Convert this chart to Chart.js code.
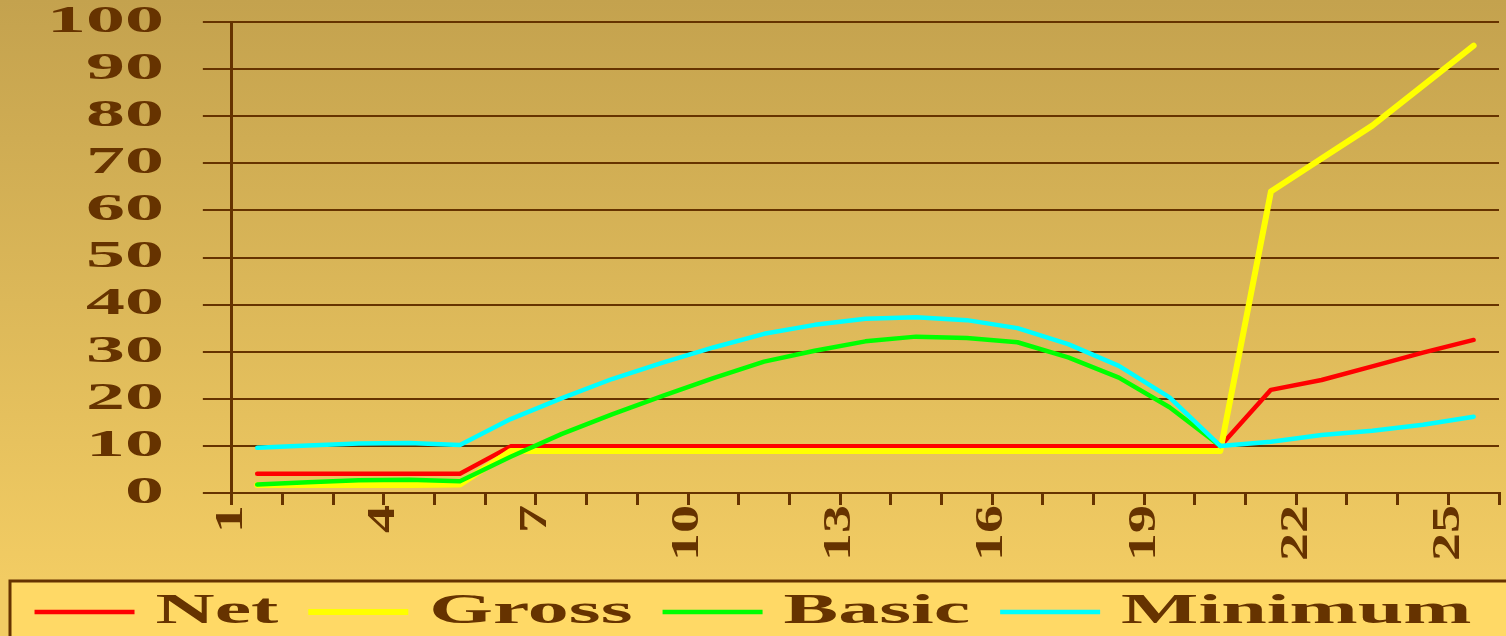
<!DOCTYPE html>
<html>
<head>
<meta charset="utf-8">
<title>Net, Gross, Basic and Minimum</title>
<script src="https://cdn.jsdelivr.net/npm/chart.js@4.4.0/dist/chart.umd.min.js"></script>
<style>
  html, body { margin: 0; padding: 0; overflow: hidden; }
  body { background: #F2CC63; }
  #wrap { position: relative; width: 1506px; height: 643px; }
</style>
</head>
<body>
<div id="wrap"><canvas id="payChart"></canvas></div>
<script>
// --- DATA ---
const categories = [1, 2, 3, 4, 5, 6, 7, 8, 9, 10, 11, 12, 13, 14, 15, 16, 17, 18, 19, 20, 21, 22, 23, 24, 25];
const labelledCategories = [1, 4, 7, 10, 13, 16, 19, 22, 25];
const yTicks = [0, 10, 20, 30, 40, 50, 60, 70, 80, 90, 100];

const netValues = [4.1, 4.1, 4.1, 4.1, 4.1, 9.9, 9.9, 9.9, 9.9, 9.9, 9.9, 9.9, 9.9, 9.9, 9.9, 9.9, 9.9, 9.9, 9.9, 9.9, 21.9, 24.0, 26.9, 29.8, 32.5];
const grossValues = [1.7, 1.7, 1.7, 1.7, 1.8, 8.9, 8.9, 8.9, 8.9, 8.9, 8.9, 8.9, 8.9, 8.9, 8.9, 8.9, 8.9, 8.9, 8.9, 8.9, 64, 71, 78, 86.5, 95];
const basicValues = [1.8, 2.3, 2.7, 2.8, 2.5, 7.7, 12.5, 16.7, 20.6, 24.4, 27.9, 30.2, 32.2, 33.2, 32.9, 32.0, 28.8, 24.5, 18.2, 10.0, null, null, null, null, null];
const minimumValues = [9.6, 10.1, 10.5, 10.6, 10.2, 15.7, 20.1, 24.2, 27.7, 30.9, 33.8, 35.7, 37.0, 37.3, 36.7, 35.0, 31.6, 27.0, 20.3, 10.0, 10.9, 12.3, 13.2, 14.5, 16.2];

// --- LOOK ---
const BROWN = '#663300';
const SERIF = "'Liberation Serif', 'Times New Roman', serif";
// the serif faces are drawn wide; horizontal stretch keyed by font size
const TEXT_STRETCH = { 38: 2.05, 40: 1.4, 42: 1.95 };
const LEGEND_INSET = 20;

function widenText(ctx) {
    const fill = ctx.fillText;
    const measure = ctx.measureText;
    const factor = () => {
        const m = /(\d+)px/.exec(ctx.font);
        return (m && TEXT_STRETCH[m[1]]) || 1;
    };
    ctx.fillText = function (text, x, y) {
        const k = factor();
        if (k === 1) return fill.call(this, text, x, y);
        this.save();
        this.translate(x, y);
        this.scale(k, 1);
        fill.call(this, text, 0, 0);
        this.restore();
    };
    ctx.measureText = function (text) {
        const m = measure.call(this, text);
        const k = factor();
        if (k === 1) return m;
        return {
            width: m.width * k,
            actualBoundingBoxAscent: m.actualBoundingBoxAscent,
            actualBoundingBoxDescent: m.actualBoundingBoxDescent,
            actualBoundingBoxLeft: m.actualBoundingBoxLeft * k,
            actualBoundingBoxRight: m.actualBoundingBoxRight * k
        };
    };
}

// background wash plus the open-ended legend panel
const backdrop = {
    id: 'backdrop',
    beforeDraw(chart) {
        const { ctx, width, height, legend } = chart;
        const wash = ctx.createLinearGradient(0, 0, 0, 580);
        wash.addColorStop(0, '#C4A24E');
        wash.addColorStop(1, '#F2CC63');
        ctx.save();
        ctx.fillStyle = wash;
        ctx.fillRect(0, 0, width, height);

        const top = legend.top + LEGEND_INSET;
        ctx.fillStyle = '#FFD966';
        ctx.fillRect(10, top, width, height - top);
        ctx.strokeStyle = BROWN;
        ctx.lineWidth = 3;
        ctx.beginPath();
        ctx.moveTo(10, height + 5);
        ctx.lineTo(10, top);
        ctx.lineTo(width + 5, top);
        ctx.stroke();
        ctx.restore();
    }
};

const toPoints = (values) => values.map((v, i) => ({ x: i + 0.5, y: v }));

const series = [
    { label: 'Net', values: netValues, color: '#FF0000', width: 4.5, order: 4 },
    { label: 'Gross', values: grossValues, color: '#FFFF00', width: 6, order: 3 },
    { label: 'Basic', values: basicValues, color: '#00FF00', width: 4.5, order: 2 },
    { label: 'Minimum', values: minimumValues, color: '#00FFFF', width: 4.5, order: 1 }
];

const canvas = document.getElementById('payChart');
const ctx = canvas.getContext('2d');
widenText(ctx);

new Chart(ctx, {
    type: 'line',
    data: {
        datasets: series.map(s => ({
            label: s.label,
            data: toPoints(s.values),
            borderColor: s.color,
            backgroundColor: s.color,
            borderWidth: s.width,
            borderCapStyle: 'round',
            borderJoinStyle: 'round',
            pointRadius: 0,
            tension: 0,
            order: s.order
        }))
    },
    options: {
        responsive: true,
        maintainAspectRatio: false,
        animation: false,
        events: [],
        layout: { padding: 0 },
        scales: {
            x: {
                type: 'linear',
                min: 0,
                max: categories.length,
                afterFit: (axis) => { axis.paddingRight = 7; },
                border: { display: true, color: BROWN, width: 2 },
                grid: { drawOnChartArea: false, color: BROWN, lineWidth: 3, tickLength: 12 },
                ticks: {
                    stepSize: 1,
                    autoSkip: false,
                    minRotation: 90,
                    maxRotation: 90,
                    padding: 0,
                    color: BROWN,
                    font: { family: SERIF, size: 40, weight: 'bold' },
                    callback: (value) => {
                        const cat = categories[value];
                        return labelledCategories.includes(cat) ? String(cat) : '';
                    }
                }
            },
            y: {
                min: yTicks[0],
                max: yTicks[yTicks.length - 1],
                afterFit: (axis) => {
                    axis.width += 8;
                    axis.paddingTop = 22;
                    axis.paddingBottom = 0;
                },
                border: { display: true, color: BROWN, width: 3 },
                grid: { color: BROWN, lineWidth: 2, tickLength: 29 },
                ticks: {
                    stepSize: yTicks[1] - yTicks[0],
                    autoSkip: false,
                    padding: 39,
                    color: BROWN,
                    font: { family: SERIF, size: 38, weight: 'bold' }
                }
            }
        },
        plugins: {
            tooltip: { enabled: false },
            legend: {
                position: 'bottom',
                labels: {
                    usePointStyle: true,
                    pointStyle: 'line',
                    pointStyleWidth: 100,
                    padding: 30,
                    color: BROWN,
                    font: { family: SERIF, size: 42, weight: 'bold' },
                    sort: (a, b) => a.datasetIndex - b.datasetIndex
                }
            }
        }
    },
    plugins: [backdrop]
});
</script>
</body>
</html>
